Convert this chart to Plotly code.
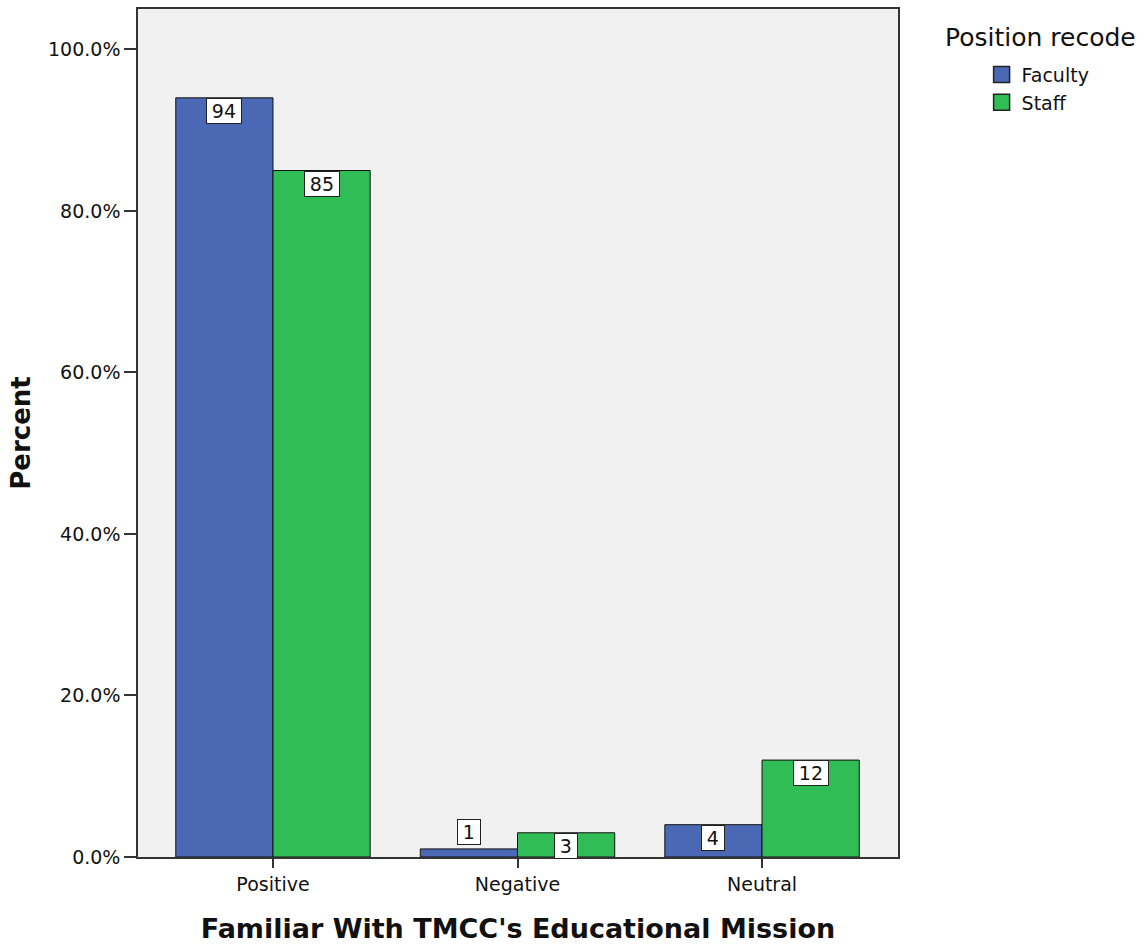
import plotly.graph_objects as go

# Responses grouped by position
categories = ["Positive", "Negative", "Neutral"]
faculty_pct = [94, 1, 4]
staff_pct = [85, 3, 12]
series_names = ["Faculty", "Staff"]
y_ticks = [0, 20, 40, 60, 80, 100]

BLUE = "#4b68b4"
GREEN = "#30bd56"
FONT = "DejaVu Sans, sans-serif"
BAR_GAP = 0.205
THIN = "\u2009"

fig = go.Figure()
for name, vals, col in [(series_names[0], faculty_pct, BLUE), (series_names[1], staff_pct, GREEN)]:
    fig.add_trace(go.Bar(
        x=list(range(len(categories))), y=vals, name=name,
        marker=dict(color=col, line=dict(color="#111111", width=1)),
        hoverinfo="skip", showlegend=False,
    ))
    # legend entry with a larger square swatch
    fig.add_trace(go.Scatter(
        x=[None], y=[None], mode="markers", name=name,
        marker=dict(symbol="square", size=16, color=col,
                    line=dict(color="#222222", width=1.5)),
        showlegend=True,
    ))

# Boxed value labels at the top of each bar
half = (1 - BAR_GAP) / 4
for series_idx, vals in enumerate([faculty_pct, staff_pct]):
    offset = -half if series_idx == 0 else half
    for i, v in enumerate(vals):
        small = v < 2
        fig.add_annotation(
            x=i + offset, y=v, xref="x", yref="y",
            text=f"{THIN}{v}{THIN}", showarrow=False,
            yanchor="bottom" if small else "top",
            yshift=4 if small else 0,
            font=dict(family=FONT, size=19, color="#111111"),
            bgcolor="white", bordercolor="#222222", borderwidth=1, borderpad=1,
        )

# Legend heading
fig.add_annotation(
    x=(943 - 138) / (1148 - 138 - 250), y=1.0, xref="paper", yref="paper",
    text="Position recode", showarrow=False, xanchor="left", yanchor="top",
    yshift=-12,
    font=dict(family=FONT, size=25, color="#111111"),
)

fig.update_layout(
    width=1148, height=945,
    margin=dict(l=138, r=250, t=9, b=88),
    paper_bgcolor="white", plot_bgcolor="#f1f1f1",
    bargap=BAR_GAP, bargroupgap=0, barmode="group",
    font=dict(family=FONT, color="#111111"),
    showlegend=True,
    legend=dict(
        x=1.11, y=0.945, xanchor="left", yanchor="top",
        font=dict(family=FONT, size=19, color="#111111"),
        bgcolor="rgba(0,0,0,0)", tracegroupgap=0,
    ),
    xaxis=dict(
        tickmode="array", tickvals=list(range(len(categories))), ticktext=categories,
        range=[-0.552, 2.556], automargin=False,
        showline=True, mirror=True, linecolor="#333333", linewidth=1.5,
        ticks="outside", ticklen=9, tickcolor="#333333", tickwidth=1.5,
        tickfont=dict(family=FONT, size=19, color="#111111"),
        showgrid=False, zeroline=False,
        title=dict(text="<b>Familiar With TMCC's Educational Mission</b>",
                   font=dict(family=FONT, size=27, color="#111111"), standoff=26),
    ),
    yaxis=dict(
        range=[0, 105], tickvals=y_ticks, automargin=False,
        ticktext=[f"{t:.1f}%" for t in y_ticks],
        showline=True, mirror=True, linecolor="#333333", linewidth=1.5,
        ticks="outside", ticklen=12, tickcolor="#333333", tickwidth=1.5,
        tickfont=dict(family=FONT, size=19, color="#111111"),
        showgrid=False, zeroline=False,
        title=dict(text="<b>Percent</b>",
                   font=dict(family=FONT, size=26, color="#111111"), standoff=10),
    ),
)

fig.write_html("out.html")
